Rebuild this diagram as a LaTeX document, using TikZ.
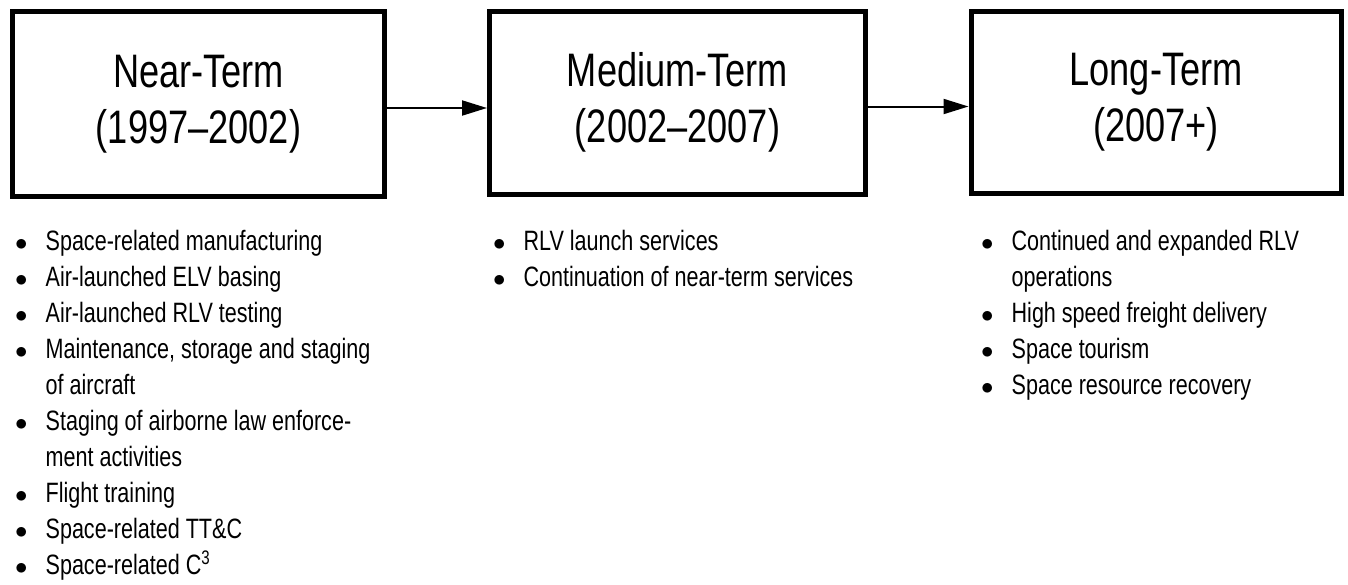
\documentclass[tikz,border=0pt]{standalone}
\usepackage{fontspec}
\setmainfont{Liberation Sans}[FakeStretch=0.77]
\usetikzlibrary{arrows.meta}

\tikzset{
  termbox/.style={draw, line width=5pt, inner sep=0pt, align=center,
    font=\fontsize{47}{56}\selectfont},
  flow/.style={line width=2pt, -{Triangle[length=25pt,width=15pt]}},
  itemlist/.style={anchor=base west, inner sep=0pt,
    font=\fontsize{28}{36}\selectfont}
}
\newcommand{\itm}{$\bullet$}

\begin{document}
\begin{tikzpicture}[x=1pt, y=-1pt]
\useasboundingbox (0,0) rectangle (1348,584);

% the three periods
\node[termbox, minimum width=372pt, minimum height=185pt] (near) at (198.5,104) {Near-Term\\(1997–2002)};
\node[termbox, minimum width=376pt, minimum height=183pt] (medium) at (677.5,102.5) {Medium-Term\\(2002–2007)};
\node[termbox, minimum width=370pt, minimum height=182pt] (long) at (1156,102) {Long-Term\\(2007+)};

\draw[flow] ([yshift=-4pt]near.east) -- ([yshift=-4pt]near.east -| medium.west);
\draw[flow] ([yshift=-4pt]medium.east) -- ([yshift=-4pt]medium.east -| long.west);

% activities under each period
\node[itemlist] (nearlist) at (15,250) {\begin{tabular}[t]{@{}c@{\hspace{18pt}}l@{}}
\itm & Space-related manufacturing\\
\itm & Air-launched ELV basing\\
\itm & Air-launched RLV testing\\
\itm & Maintenance, storage and staging\\
     & of aircraft\\
\itm & Staging of airborne law enforce-\\
     & ment activities\\
\itm & Flight training\\
\itm & Space-related TT\&C\\
\itm & Space-related C\textsuperscript{3}
\end{tabular}};

\node[itemlist] (mediumlist) at (493,250) {\begin{tabular}[t]{@{}c@{\hspace{18pt}}l@{}}
\itm & RLV launch services\\
\itm & Continuation of near-term services
\end{tabular}};

\node[itemlist] (longlist) at (981,250) {\begin{tabular}[t]{@{}c@{\hspace{18pt}}l@{}}
\itm & Continued and expanded RLV\\
     & operations\\
\itm & High speed freight delivery\\
\itm & Space tourism\\
\itm & Space resource recovery
\end{tabular}};
\end{tikzpicture}
\end{document}
